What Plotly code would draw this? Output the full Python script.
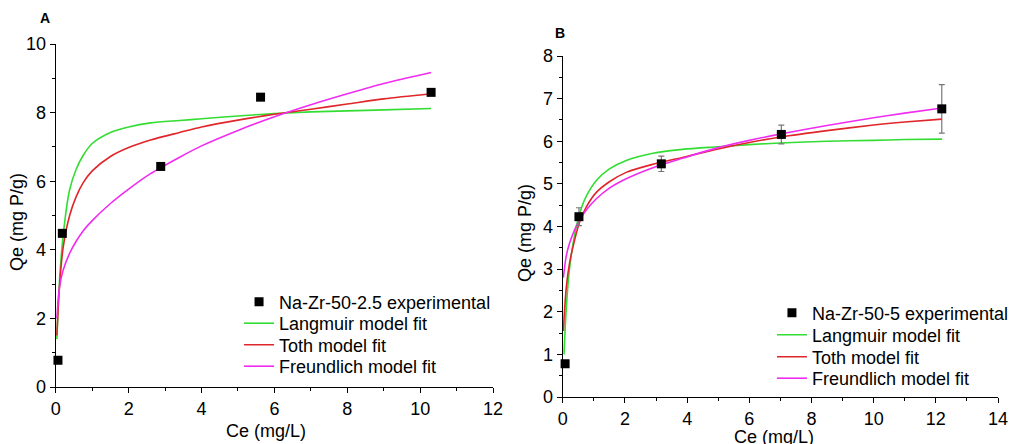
import plotly.graph_objects as go

# ---------------- Panel A data ----------------
a_exp_x = [0.06, 0.18, 2.88, 5.62, 10.3]
a_exp_y = [0.78, 4.48, 6.43, 8.45, 8.59]

a_fit_x = [0.03, 0.1, 0.2, 0.38, 0.56, 0.75, 1.0, 1.5, 2.0, 2.6, 3.4, 4.0, 5.0, 6.0, 7.0, 8.0, 9.0, 10.3]
a_langmuir = [1.4, 3.05, 4.4, 5.75, 6.35, 6.75, 7.1, 7.42, 7.58, 7.7, 7.77, 7.82, 7.9, 7.97, 8.02, 8.05, 8.08, 8.12]
a_toth = [1.5, 2.9, 4.05, 5.0, 5.55, 5.95, 6.3, 6.72, 6.98, 7.2, 7.42, 7.58, 7.78, 7.95, 8.1, 8.25, 8.4, 8.55]
a_freundlich = [2.0, 2.9, 3.4, 3.9, 4.25, 4.55, 4.85, 5.35, 5.77, 6.22, 6.7, 7.03, 7.48, 7.88, 8.23, 8.55, 8.85, 9.17]

# ---------------- Panel B data ----------------
b_exp_x = [0.075, 0.52, 3.17, 7.03, 12.19]
b_exp_y = [0.78, 4.23, 5.47, 6.16, 6.76]
b_exp_err = [0.0, 0.21, 0.18, 0.22, 0.57]

b_lang_x = [0.04, 0.11, 0.215, 0.38, 0.54, 0.75, 1.08, 1.5, 2.04, 2.9, 3.85, 5.0, 6.0, 7.0, 8.5, 10.0, 11.0, 12.2]
b_langmuir = [1.0, 2.05, 3.0, 3.8, 4.3, 4.7, 5.08, 5.35, 5.55, 5.72, 5.81, 5.87, 5.92, 5.96, 6.0, 6.02, 6.04, 6.05]
b_fit_x = [0.02, 0.11, 0.215, 0.38, 0.54, 0.75, 1.08, 1.5, 2.04, 2.9, 3.85, 5.0, 6.0, 7.0, 8.5, 10.0, 11.0, 12.2]
b_toth = [1.55, 2.55, 3.13, 3.68, 4.1, 4.45, 4.8, 5.05, 5.27, 5.46, 5.62, 5.82, 5.97, 6.1, 6.25, 6.38, 6.45, 6.52]
b_freundlich = [2.8, 3.3, 3.6, 3.92, 4.15, 4.38, 4.65, 4.9, 5.12, 5.38, 5.6, 5.85, 6.02, 6.17, 6.37, 6.55, 6.66, 6.78]

GREEN = "#33dd33"
RED = "#e0262a"
MAGENTA = "#f02cf0"
FONT = "Liberation Sans, Arial, sans-serif"

W, H = 1014, 444


def px(x):
    return x / W


def py(y):
    return 1 - y / H


fig = go.Figure()
legend_layouts = {}


def add_legend(key, text_x, row_y):
    legend_layouts[key] = dict(
        x=px(text_x - 38), y=py(row_y), xanchor="left", yanchor="middle",
        bgcolor="rgba(0,0,0,0)", font=dict(family=FONT, size=18, color="black"),
        tracegroupgap=0)


def add_panel(xa, ya, legends, text_x, rows, fits, ex, ey, name, err=None):
    for (fx, fy, nm, col), lg, ry in zip(fits, legends[1:], rows[1:]):
        fig.add_trace(go.Scatter(
            x=fx, y=fy, mode="lines", name=nm, xaxis=xa, yaxis=ya,
            line=dict(color=col, width=1.6, shape="spline", smoothing=0.8),
            legend=lg, hoverinfo="skip"))
        add_legend(lg, text_x, ry)
    kw = {}
    if err is not None:
        kw["error_y"] = dict(type="data", array=err, visible=True,
                             color="#777777", thickness=1.2, width=3)
    fig.add_trace(go.Scatter(
        x=ex, y=ey, mode="markers", name=name, xaxis=xa, yaxis=ya,
        marker=dict(symbol="square", size=9, color="black"),
        cliponaxis=False, legend=legends[0], **kw))
    add_legend(legends[0], text_x, rows[0])


add_panel("x", "y", ["legend", "legend2", "legend3", "legend4"], 278,
          [302, 323.5, 345, 366.5],
          [(a_fit_x, a_langmuir, "Langmuir model fit", GREEN),
           (a_fit_x, a_toth, "Toth model fit", RED),
           (a_fit_x, a_freundlich, "Freundlich model fit", MAGENTA)],
          a_exp_x, a_exp_y, "Na-Zr-50-2.5 experimental")

add_panel("x2", "y2", ["legend5", "legend6", "legend7", "legend8"], 813,
          [313, 335, 357, 378.5],
          [(b_lang_x, b_langmuir, "Langmuir model fit", GREEN),
           (b_fit_x, b_toth, "Toth model fit", RED),
           (b_fit_x, b_freundlich, "Freundlich model fit", MAGENTA)],
          b_exp_x, b_exp_y, "Na-Zr-50-5 experimental", err=b_exp_err)

axis_common = dict(
    showline=True, linecolor="black", linewidth=1.3, mirror=False,
    ticks="outside", ticklen=5, tickwidth=1.2, tickcolor="black",
    showgrid=False, zeroline=False, automargin=False,
    tickfont=dict(family=FONT, size=18, color="black"),
)

fig.update_layout(
    width=W, height=H,
    margin=dict(l=0, r=0, t=0, b=0),
    paper_bgcolor="white", plot_bgcolor="white",
    font=dict(family=FONT, color="black"),
    xaxis=dict(domain=[px(56), px(495)], range=[0, 12], dtick=2, anchor="y",
               minor=dict(dtick=1, ticks="outside", ticklen=3, tickcolor="black"),
               **axis_common),
    yaxis=dict(domain=[py(387), py(44)], range=[0, 10], dtick=2, anchor="x",
               minor=dict(dtick=1, ticks="outside", ticklen=3, tickcolor="black"),
               **axis_common),
    xaxis2=dict(domain=[px(565), px(1002)], range=[0, 14], dtick=2, anchor="y2",
                minor=dict(dtick=1, ticks="outside", ticklen=3, tickcolor="black"),
                **axis_common),
    yaxis2=dict(domain=[py(397), py(56)], range=[0, 8], dtick=1, anchor="x2",
                minor=dict(dtick=0.5, ticks="outside", ticklen=3, tickcolor="black"),
                **axis_common),
    showlegend=True,
    **legend_layouts,
)

ann = [
    dict(text="<b>A</b>", x=px(45), y=py(18), font=dict(size=14)),
    dict(text="<b>B</b>", x=px(562), y=py(33), font=dict(size=14)),
    dict(text="Qe (mg P/g)", x=px(17), y=py(222), textangle=-90, font=dict(size=18)),
    dict(text="Ce (mg/L)", x=px(267), y=py(431), font=dict(size=18)),
    dict(text="Qe (mg P/g)", x=px(527), y=py(233), textangle=-90, font=dict(size=18)),
    dict(text="Ce (mg/L)", x=px(777), y=py(437), font=dict(size=18)),
]
for a in ann:
    fig.add_annotation(xref="paper", yref="paper", showarrow=False,
                       xanchor="center", yanchor="middle",
                       **{k: v for k, v in a.items() if k != "font"},
                       font=dict(family=FONT, color="black", **a["font"]))

fig.write_html(
    "out.html",
    config={"displayModeBar": False},
    post_script="document.body.style.margin='0';document.body.style.overflow='hidden';",
)
